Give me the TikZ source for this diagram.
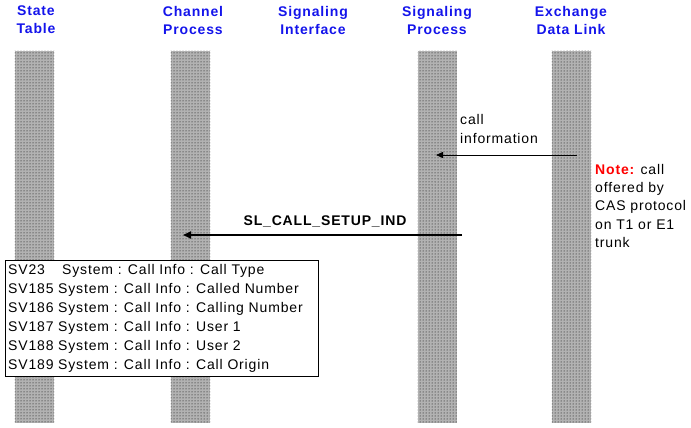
\documentclass[tikz,border=0pt]{standalone}
\usepackage{fontspec}
\setmainfont{Liberation Sans}[LetterSpace=6]
\usetikzlibrary{arrows.meta,patterns}
\definecolor{hdrblue}{RGB}{20,20,235}
\definecolor{notered}{RGB}{255,0,0}
\tikzset{
  hdr/.style={font=\fontsize{14}{18}\selectfont\bfseries, text=hdrblue, align=center, inner sep=0pt},
  lifebar/.style={draw=none, fill=gray!60, minimum width=39pt, inner sep=0pt},
  bodytxt/.style={font=\fontsize{14}{19}\selectfont, inner sep=0pt, align=left},
  msg/.style={-{Triangle[length=7pt,width=6pt]}, line width=0.8pt},
  msgbold/.style={-{Triangle[length=8pt,width=7pt]}, line width=1.8pt},
  svbox/.style={draw, line width=0.9pt, fill=white, minimum width=313pt, minimum height=116pt, inner sep=0pt, anchor=north west},
  svrow/.style={font=\fontsize{14}{19}\selectfont, inner sep=0pt, anchor=base west}
}
\begin{document}
\begin{tikzpicture}[x=1pt,y=-1pt]
\useasboundingbox (0,0) rectangle (691,428);
% headers
\node[hdr] (hST) at (36,20) {State\\Table};
\node[hdr] (hCP) at (193,20) {Channel\\Process};
\node[hdr] (hSI) at (313,20) {Signaling\\Interface};
\node[hdr] (hSP) at (437,20) {Signaling\\Process};
\node[hdr] (hEX) at (571,20) {Exchange\\Data Link};
% lifeline bars
\foreach \n/\x in {bST/34.5, bCP/190.5, bSP/437, bEX/571.5}{
  \node[lifebar, minimum height=372pt] (\n) at (\x,237) {};
  \fill[pattern=dots, pattern color=black] (\n.north west) rectangle (\n.south east);
}
% message 1
\coordinate (m1s) at (577,155);
\coordinate (m1e) at (436,155);
\draw[msg] (m1s) -- (m1e);
\node[bodytxt, anchor=north west] (m1l) at (460,114) {call\\information};
% note
\node[bodytxt, anchor=north west, font=\fontsize{14}{18.3}\selectfont] (note) at (595,164)
  {{\color{notered}\bfseries Note:} call\\offered by\\CAS protocol\\on T1 or E1\\trunk};
% message 2
\coordinate (m2s) at (462,235);
\coordinate (m2e) at (183,235);
\draw[msgbold] (m2s) -- (m2e);
\node[font=\fontsize{14}{18}\selectfont\bfseries, inner sep=0pt] (m2l) at (325,221) {SL\_CALL\_SETUP\_IND};
% state variable box
\node[svbox] (box) at (5,260) {};
\foreach \i/\w/\sv/\txt in {1/54pt/SV23/Call Type, 2/50pt/SV185/Called Number, 3/50pt/SV186/Calling Number, 4/50pt/SV187/User 1, 5/50pt/SV188/User 2, 6/50pt/SV189/Call Origin}{
  \node[svrow] (r\i) at (8,255+19*\i) {\makebox[\w][l]{\sv}System : Call Info : \txt};
}
\end{tikzpicture}
\end{document}
